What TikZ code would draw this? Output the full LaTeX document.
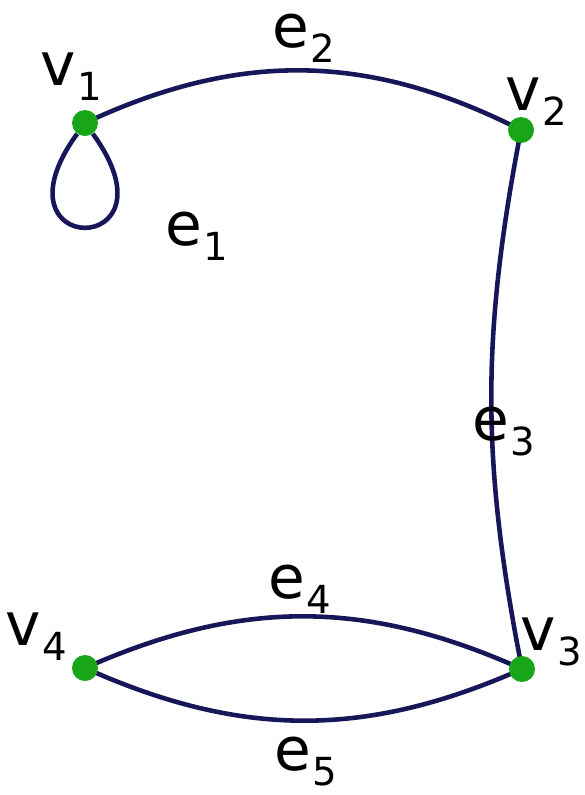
\documentclass[tikz,border=0pt]{standalone}
\usepackage{fontspec}
\setmainfont{DejaVu Sans}
\usepackage{xcolor}
\usepackage{tikz}
\usetikzlibrary{backgrounds}

\definecolor{edgeblue}{RGB}{22,22,88}
\definecolor{vertgreen}{RGB}{24,165,24}
\newcommand{\sublab}[2]{#1\kern1pt\raisebox{-9pt}{\fontsize{22}{22}\selectfont #2}}

\begin{document}
\begin{tikzpicture}[
  vert/.style={circle,fill=vertgreen,inner sep=0pt,minimum size=5.2mm},
  edge/.style={edgeblue,line width=2.6pt},
  lbl/.style={anchor=base west,inner sep=0pt,font=\fontsize{34}{40}\selectfont}]
  \useasboundingbox (0,0) rectangle (11.68,-15.9);
  % vertices
  \node[vert] (v1) at (1.70,-2.46) {};
  \node[vert] (v2) at (10.42,-2.60) {};
  \node[vert] (v3) at (10.44,-13.38) {};
  \node[vert] (v4) at (1.70,-13.36) {};
  % edges
  \begin{scope}[on background layer]
  \draw[edge] (v1) to[out=-126,in=-54,min distance=3.1cm] (v1);
  \draw[edge] (v1.center) to[bend left=26] (v2.center);
  \draw[edge] (v2.center) to[bend right=11] (v3.center);
  \draw[edge] (v4.center) to[bend left=24] (v3.center);
  \draw[edge] (v4.center) to[bend right=24] (v3.center);
  \end{scope}
  % labels
  \node[lbl] (l1) at (0.80,-1.70) {\sublab{v}{1}};
  \node[lbl] (l2) at (10.10,-2.20) {\sublab{v}{2}};
  \node[lbl] (l3) at (10.40,-13.00) {\sublab{v}{3}};
  \node[lbl] (l4) at (0.10,-12.90) {\sublab{v}{4}};
  \node[lbl] (le1) at (3.30,-4.90) {\sublab{e}{1}};
  \node[lbl] (le2) at (5.44,-0.94) {\sublab{e}{2}};
  \node[lbl] (le3) at (9.44,-8.80) {\sublab{e}{3}};
  \node[lbl] (le4) at (5.36,-11.96) {\sublab{e}{4}};
  \node[lbl] (le5) at (5.48,-15.40) {\sublab{e}{5}};
\end{tikzpicture}
\end{document}
